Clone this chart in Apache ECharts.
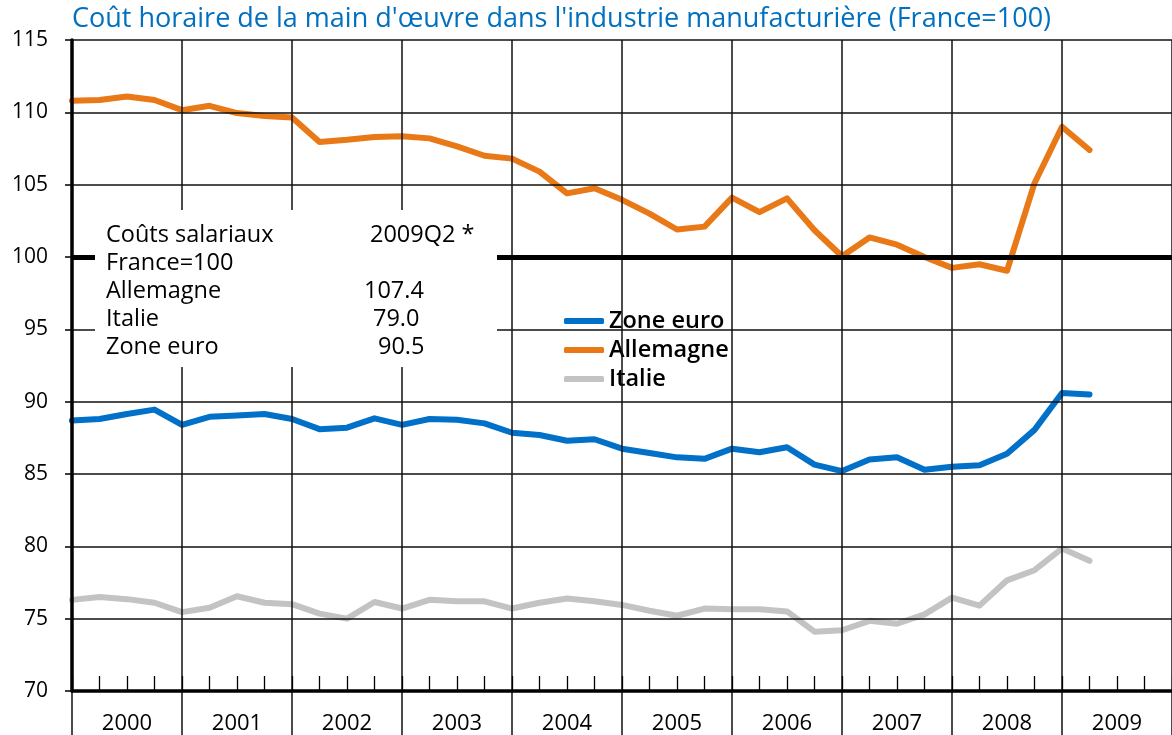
<!DOCTYPE html>
<html><head><meta charset="utf-8">
<script src="https://cdn.jsdelivr.net/npm/echarts@6/dist/echarts.min.js"></script>
<style>html,body{margin:0;padding:0;background:#fff}#c{width:1172px;height:735px}</style>
</head><body><div id="c"></div>
<script>
const titleText = "Coût horaire de la main d'œuvre dans l'industrie manufacturière (France=100)";
const years = ['2000','2001','2002','2003','2004','2005','2006','2007','2008','2009'];
const quarterSuffix = ['Q1','Q2','Q3','Q4'];
const seriesNames = ['Zone euro','Allemagne','Italie'];
// 2000Q1 .. 2009Q2
const zoneEuro = [88.7,88.8,89.15,89.45,88.4,88.95,89.05,89.15,88.8,88.1,88.2,88.85,88.4,88.8,88.75,88.5,87.85,87.7,87.3,87.4,
  86.75,86.45,86.15,86.05,86.75,86.5,86.85,85.65,85.2,86.0,86.15,85.3,85.5,85.6,86.4,88.05,90.6,90.5];
const allemagne = [110.8,110.85,111.1,110.85,110.15,110.45,109.95,109.75,109.65,107.95,108.1,108.3,108.35,108.2,107.65,107.0,106.8,105.9,104.4,104.75,
  103.95,103.0,101.9,102.1,104.1,103.1,104.05,101.85,100.05,101.35,100.85,100.0,99.25,99.5,99.05,105.1,109.0,107.4];
const italie = [76.3,76.5,76.35,76.1,75.45,75.75,76.55,76.1,76.0,75.35,75.0,76.15,75.7,76.3,76.2,76.2,75.7,76.1,76.4,76.2,
  75.95,75.55,75.2,75.7,75.65,75.65,75.5,74.1,74.2,74.85,74.65,75.3,76.45,75.9,77.65,78.35,79.85,79.0];
const boxRows = [
  ['Coûts salariaux','2009Q2 *'],
  ['France=100',''],
  ['Allemagne','107.4'],
  ['Italie','79.0'],
  ['Zone euro','90.5']
];

const quarters = [];
years.forEach(y => quarterSuffix.forEach(q => quarters.push(y + q)));
quarters.push('2010Q1');

const FONT = '"Open Sans", "Noto Sans", sans-serif';
const chart = echarts.init(document.getElementById('c'), null, {renderer:'canvas'});

const valueX = [370, 370, 364, 373, 378];
const gfx = [{
  type:'rect', left:95, top:210, shape:{width:402, height:157}, style:{fill:'#fff'}, z:100, silent:true
}];
boxRows.forEach((r, i) => {
  const cy = 235 + i * 28;
  gfx.push({type:'text', left:106, top:cy - 12, z:101, style:{text:r[0], font:'23.5px ' + FONT, fill:'#000'}});
  if (r[1]) gfx.push({type:'text', left:valueX[i], top:cy - 12, z:101, style:{text:r[1], font:'23.5px ' + FONT, fill:'#000'}});
});

chart.setOption({
  animation:false,
  backgroundColor:'#fff',
  title:{text:titleText, left:72, top:6, padding:0,
    textStyle:{color:'#0070C0', fontSize:27, fontWeight:'normal', fontFamily:FONT}},
  legend:{
    data:seriesNames, orient:'vertical', left:556, top:305,
    backgroundColor:'#fff', padding:[4,8,4,8], itemGap:5,
    itemWidth:40, itemHeight:6, icon:'roundRect',
    textStyle:{fontSize:23.5, lineHeight:24, color:'#000', fontFamily:FONT, fontWeight:600}
  },
  grid:{left:72, top:40, right:-9, bottom:43, containLabel:false},
  xAxis:[{
    type:'category', data:quarters, boundaryGap:false,
    axisLine:{show:true, lineStyle:{color:'#000', width:3.5}},
    axisTick:{show:true, inside:true, length:15, interval:0, lineStyle:{color:'#000', width:1.3}},
    axisLabel:{show:false},
    splitLine:{show:true, interval:3, lineStyle:{color:'#111', width:1.5}},
    z:5
  },{
    type:'category', data:years, boundaryGap:true, position:'bottom',
    axisLine:{show:false},
    axisTick:{show:true, length:45, lineStyle:{color:'#111', width:1.5}},
    axisLabel:{show:true, margin:22, fontSize:22, color:'#000', fontFamily:FONT},
    splitLine:{show:false}
  }],
  yAxis:{
    type:'value', min:70, max:115, interval:5,
    axisLine:{show:true, lineStyle:{color:'#000', width:3.5}},
    axisTick:{show:true, length:7, lineStyle:{color:'#000', width:1.5}},
    axisLabel:{fontSize:21, color:'#000', margin:24, fontFamily:FONT},
    splitLine:{show:true, lineStyle:{color:'#111', width:1.5}},
    z:5
  },
  series:[
    {name:'ref', type:'line', data:[], z:1, silent:true,
      markLine:{silent:true, symbol:'none', animation:false, label:{show:false},
        lineStyle:{color:'#000', width:5, type:'solid'}, data:[{yAxis:100}]}},
    {name:seriesNames[0], type:'line', data:zoneEuro, showSymbol:false, symbol:'none', color:'#0070C8',
      lineStyle:{width:6, cap:'round', join:'round'}, z:3},
    {name:seriesNames[1], type:'line', data:allemagne, showSymbol:false, symbol:'none', color:'#E97817',
      lineStyle:{width:6, cap:'round', join:'round'}, z:3},
    {name:seriesNames[2], type:'line', data:italie, showSymbol:false, symbol:'none', color:'#C3C3C3',
      lineStyle:{width:6, cap:'round', join:'round'}, z:3}
  ],
  graphic:gfx
});
</script></body></html>
